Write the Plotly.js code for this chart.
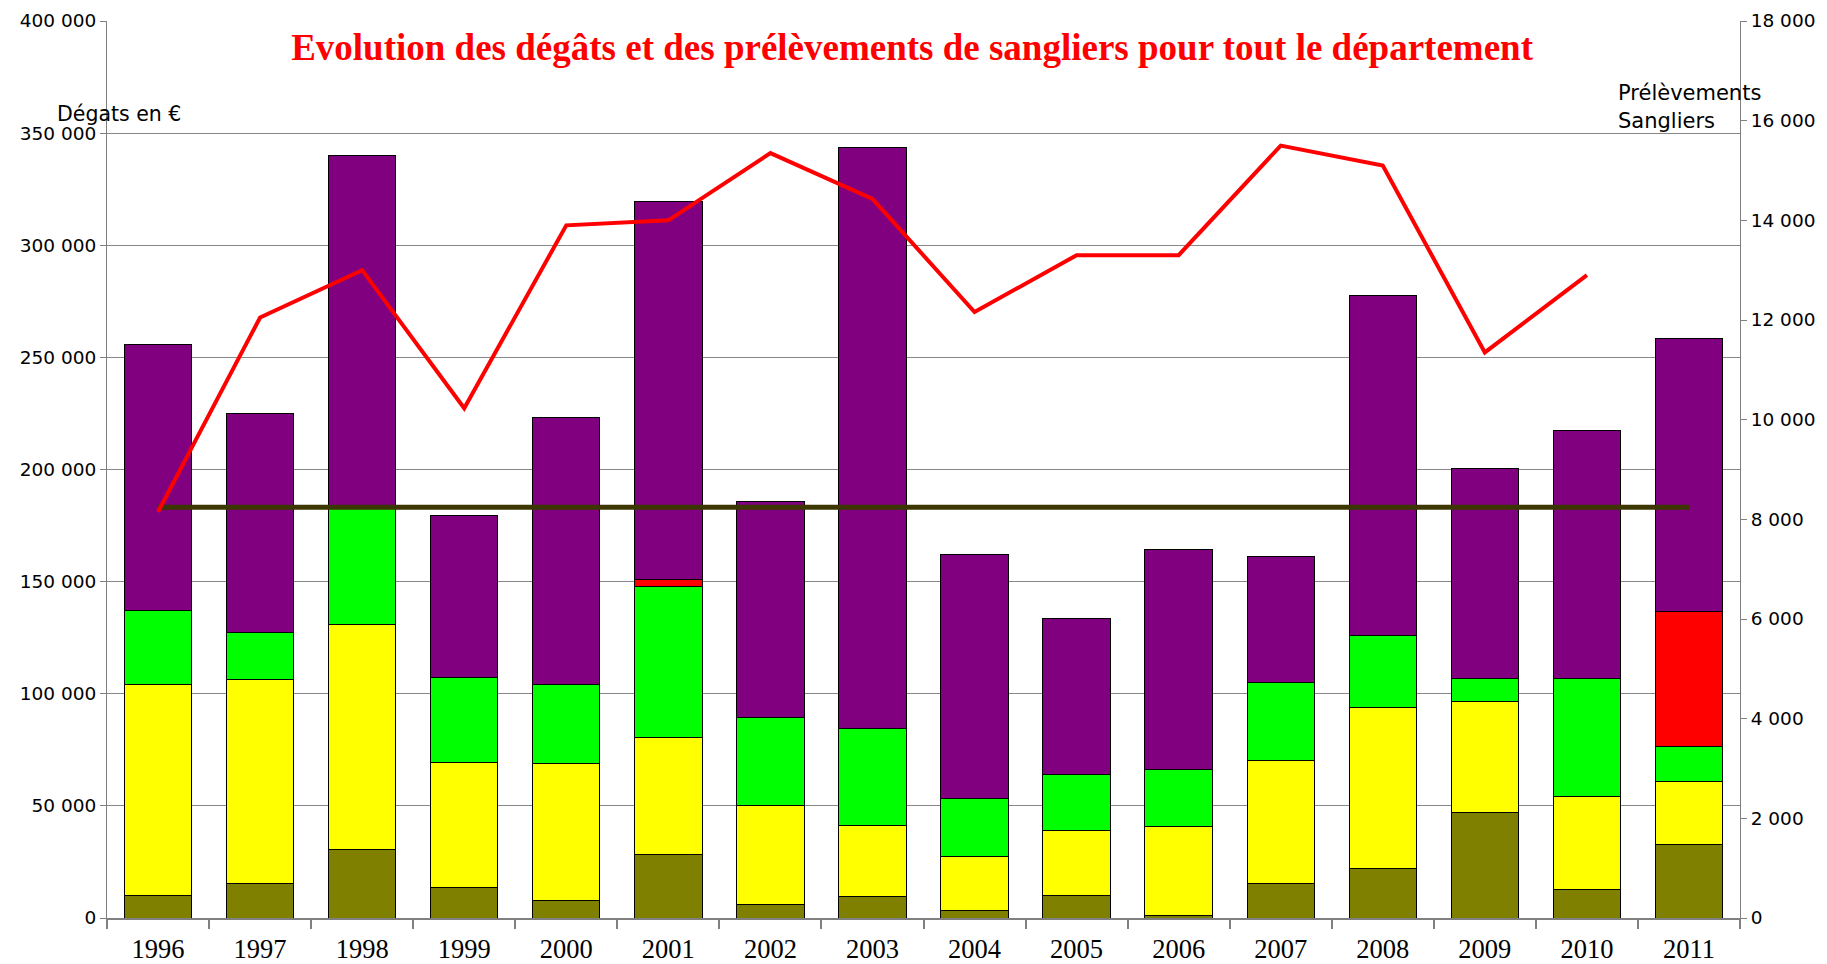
<!DOCTYPE html>
<html>
<head>
<meta charset="utf-8">
<script src="https://cdn.plot.ly/plotly-3.0.1.min.js"></script>
<style>html,body{margin:0;padding:0;background:#fff;}#chart{width:1827px;height:964px;}</style>
</head>
<body>
<div id="chart"></div>
<script>
const years = ['1996','1997','1998','1999','2000','2001','2002','2003','2004','2005','2006','2007','2008','2009','2010','2011'];
// Dégâts en € (stacked segments, bottom to top)
const degatsOlive  = [10200, 15200, 30600, 13400, 7900, 28300, 6000, 9400, 3200, 10000, 1000, 15500, 22000, 47100, 12600, 33000];
const degatsJaune  = [94100, 91300, 100100, 56000, 60900, 52200, 44000, 31900, 24300, 29100, 40000, 54900, 71900, 49400, 41400, 27800];
const degatsVert   = [32700, 20900, 52200, 38000, 35300, 67500, 39300, 43200, 25800, 24900, 25300, 34600, 32000, 10300, 52600, 15700];
const degatsRouge  = [null, null, null, null, null, 2800, null, null, null, null, null, null, null, null, null, 60100];
const degatsViolet = [118700, 97400, 157300, 71900, 119200, 168500, 96300, 259100, 109000, 69500, 98200, 56100, 151800, 93500, 111000, 122000];
// Prélèvements sangliers (axe de droite)
const prelevements = [8150, 12050, 13000, 10230, 13900, 14000, 15350, 14430, 12160, 13300, 13300, 15500, 15100, 11350, 12900, null];
const reference    = [8240, 8240, 8240, 8240, 8240, 8240, 8240, 8240, 8240, 8240, 8240, 8240, 8240, 8240, 8240, 8240];

const barLine = {color: '#000000', width: 1};
function barTrace(y, color) {
  return {type: 'bar', x: years, y: y, marker: {color: color, line: barLine}, hoverinfo: 'y'};
}
const traces = [
  barTrace(degatsOlive, '#808000'),
  barTrace(degatsJaune, '#FFFF00'),
  barTrace(degatsVert, '#00FF00'),
  barTrace(degatsRouge, '#FF0000'),
  barTrace(degatsViolet, '#800080'),
  {type: 'scatter', mode: 'lines', x: years, y: reference, yaxis: 'y2', line: {color: '#3c3700', width: 5}},
  {type: 'scatter', mode: 'lines', x: years, y: prelevements, yaxis: 'y2', line: {color: '#FF0000', width: 4}, connectgaps: false}
];

const sans = 'DejaVu Sans, Arial, sans-serif';
const serif = 'Liberation Serif, Times New Roman, serif';

const layout = {
  width: 1827, height: 964,
  margin: {l: 107, r: 87, t: 21, b: 46},
  paper_bgcolor: '#ffffff', plot_bgcolor: '#ffffff',
  separators: ', ',
  showlegend: false,
  barmode: 'stack',
  bargap: 0.34,
  font: {family: sans, color: '#000000', size: 18},
  title: {
    text: '<b>Evolution des dégâts et des prélèvements de sangliers pour tout le département</b>',
    font: {family: serif, size: 37, color: '#FF0000'},
    x: 0.493, xanchor: 'center', xref: 'paper',
    y: 0.951, yanchor: 'middle', yref: 'container'
  },
  xaxis: {
    type: 'category',
    showline: true, linecolor: '#808080', linewidth: 2,
    ticks: 'outside', tickson: 'boundaries', ticklen: 9, tickcolor: '#808080', tickwidth: 2,
    showgrid: false,
    ticklabelstandoff: 6,
    tickfont: {family: serif, size: 26.5, color: '#000000'},
    fixedrange: true
  },
  yaxis: {
    range: [0, 400000], dtick: 50000, tickformat: ',d',
    showline: true, linecolor: '#808080', linewidth: 1,
    ticks: 'outside', ticklen: 6, tickcolor: '#808080',
    showgrid: true, gridcolor: '#888888', gridwidth: 1,
    zeroline: false,
    tickfont: {family: sans, size: 18.5, color: '#000000'}
  },
  yaxis2: {
    overlaying: 'y', side: 'right',
    range: [0, 18000], dtick: 2000, tickformat: ',d',
    showline: true, linecolor: '#808080', linewidth: 1,
    ticks: 'outside', ticklen: 6, tickcolor: '#808080',
    showgrid: false, zeroline: false,
    tickfont: {family: sans, size: 18.5, color: '#000000'}
  },
  annotations: [
    {text: 'Dégats en €', xref: 'paper', yref: 'paper', x: -0.032, y: 0.896, xanchor: 'left', yanchor: 'middle', showarrow: false, font: {family: sans, size: 20.5, color: '#000000'}},
    {text: 'Prélèvements', xref: 'paper', yref: 'paper', x: 0.924, y: 0.920, xanchor: 'left', yanchor: 'middle', showarrow: false, font: {family: sans, size: 21, color: '#000000'}},
    {text: 'Sangliers', xref: 'paper', yref: 'paper', x: 0.924, y: 0.889, xanchor: 'left', yanchor: 'middle', showarrow: false, font: {family: sans, size: 21, color: '#000000'}}
  ]
};

Plotly.newPlot('chart', traces, layout, {displayModeBar: false, staticPlot: true});
</script>
</body>
</html>
